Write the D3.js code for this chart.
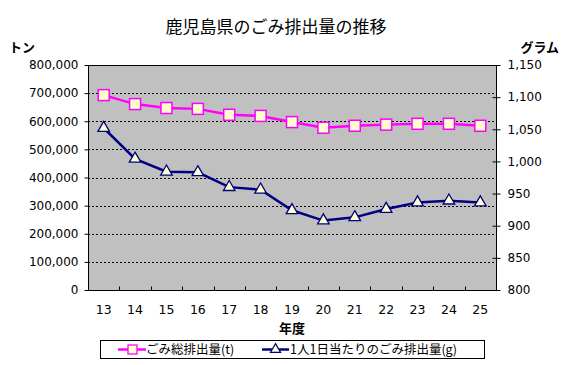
<!DOCTYPE html>
<html>
<head>
<meta charset="utf-8">
<script src="https://cdn.jsdelivr.net/npm/d3@7"></script>
<style>
body{margin:0;background:#fff;}
text{font-family:"Noto Sans CJK JP","DejaVu Sans",sans-serif;}
.num text, text.num{font-family:"DejaVu Sans",sans-serif;}
</style>
</head>
<body>
<script>
const years=["13","14","15","16","17","18","19","20","21","22","23","24","25"];
const totalWaste=[693000,661000,647000,644000,623000,619000,597000,577000,584000,588000,591000,591000,584000];
const perPerson=[1052,1004,984,983,960,956,924,908,913,926,936,939,936];
const leftTicks=[0,100000,200000,300000,400000,500000,600000,700000,800000];
const rightTicks=[800,850,900,950,1000,1050,1100,1150];

var w=568,h=365;
const m={left:88,right:496,top:65,bottom:290};
const svg=d3.select("body").append("svg").attr("width",w).attr("height",h);

const xScale=d3.scaleBand().domain(years).range([m.left,m.right]);
const yLeft=d3.scaleLinear().domain([0,800000]).range([m.bottom,m.top]);
const yRight=d3.scaleLinear().domain([800,1150]).range([m.bottom,m.top]);
const fmt=d3.format(",");

svg.append("rect").attr("x",m.left).attr("y",m.top)
  .attr("width",m.right-m.left).attr("height",m.bottom-m.top)
  .attr("fill","#c0c0c0");

// dashed gridlines
svg.append("g").selectAll("line").data(leftTicks.slice(1,-1)).enter().append("line")
  .attr("x1",m.left).attr("x2",m.right)
  .attr("y1",d=>Math.round(yLeft(d))+0.5).attr("y2",d=>Math.round(yLeft(d))+0.5)
  .attr("stroke","#000").attr("stroke-dasharray","2,2");

svg.append("rect").attr("x",m.left+0.5).attr("y",m.top+0.5)
  .attr("width",m.right-m.left).attr("height",m.bottom-m.top)
  .attr("fill","none").attr("stroke","#000");

// left axis
svg.append("g").attr("class","num").attr("transform","translate("+(m.left+0.5)+",0)")
  .call(d3.axisLeft(yLeft).tickValues(leftTicks).tickFormat(fmt).tickSize(4).tickPadding(6))
  .call(g=>g.select(".domain").remove())
  .call(g=>g.selectAll("text").attr("font-size",12).attr("fill","#000"));

// right axis
svg.append("g").attr("class","num").attr("transform","translate("+(m.right+0.5)+",0)")
  .call(d3.axisRight(yRight).tickValues(rightTicks).tickFormat(fmt).tickSize(4).tickPadding(7))
  .call(g=>g.select(".domain").remove())
  .call(g=>g.selectAll("line").attr("x1",-4))
  .call(g=>g.selectAll("text").attr("font-size",12).attr("fill","#000"));

// x axis
const xAxis=svg.append("g").attr("class","num").attr("transform","translate(0,"+(m.bottom+0.5)+")");
xAxis.selectAll("line").data(years.slice(1)).enter().append("line")
  .attr("x1",d=>Math.round(xScale(d))+0.5).attr("x2",d=>Math.round(xScale(d))+0.5)
  .attr("y1",0).attr("y2",-4).attr("stroke","#000");
xAxis.selectAll("text").data(years).enter().append("text")
  .attr("x",d=>xScale(d)+xScale.bandwidth()/2).attr("y",23)
  .attr("text-anchor","middle").attr("font-size",12.5).text(d=>d);

// titles
svg.append("text").attr("x",w/2-8).attr("y",33).attr("text-anchor","middle")
  .attr("font-size",17).text("鹿児島県のごみ排出量の推移");
svg.append("text").attr("x",9).attr("y",52).attr("font-size",13).attr("font-weight","bold").text("トン");
svg.append("text").attr("x",559).attr("y",52).attr("text-anchor","end").attr("font-size",13).attr("font-weight","bold").text("グラム");
svg.append("text").attr("x",(m.left+m.right)/2).attr("y",333).attr("text-anchor","middle")
  .attr("font-size",13).attr("font-weight","bold").text("年度");

const cx=d=>xScale(d)+xScale.bandwidth()/2;
const tri=d3.symbol().type(d3.symbolTriangle).size(58);

// pink series
svg.append("path").datum(totalWaste)
  .attr("d",d3.line().x((d,i)=>cx(years[i])).y(d=>yLeft(d)))
  .attr("fill","none").attr("stroke","#ff00ff").attr("stroke-width",2.5);
svg.append("g").selectAll("rect").data(totalWaste).enter().append("rect")
  .attr("x",(d,i)=>cx(years[i])-5.5).attr("y",d=>yLeft(d)-5.5)
  .attr("width",11).attr("height",11)
  .attr("fill","#ffffcc").attr("stroke","#ff00ff").attr("stroke-width",1.5);

// navy series
svg.append("path").datum(perPerson)
  .attr("d",d3.line().x((d,i)=>cx(years[i])).y(d=>yRight(d)))
  .attr("fill","none").attr("stroke","#000080").attr("stroke-width",2.5);
svg.append("g").selectAll("path").data(perPerson).enter().append("path")
  .attr("d",tri)
  .attr("transform",(d,i)=>"translate("+cx(years[i])+","+yRight(d)+")")
  .attr("fill","#ffffcc").attr("stroke","#000080").attr("stroke-width",1.3);

// legend
const lg=svg.append("g");
lg.append("rect").attr("x",100.5).attr("y",340.5).attr("width",384).attr("height",18)
  .attr("fill","#fff").attr("stroke","#000");
lg.append("line").attr("x1",118).attr("x2",146).attr("y1",349.5).attr("y2",349.5)
  .attr("stroke","#ff00ff").attr("stroke-width",2.5);
lg.append("rect").attr("x",128).attr("y",345).attr("width",9).attr("height",9)
  .attr("fill","#ffffcc").attr("stroke","#ff00ff").attr("stroke-width",1.3);
lg.append("text").attr("x",146).attr("y",354).attr("font-size",12.5).text("ごみ総排出量(t)");
lg.append("line").attr("x1",262).attr("x2",289).attr("y1",349.5).attr("y2",349.5)
  .attr("stroke","#000080").attr("stroke-width",2.5);
lg.append("path").attr("d",d3.symbol().type(d3.symbolTriangle).size(45))
  .attr("transform","translate(275.5,349.5)")
  .attr("fill","#ffffcc").attr("stroke","#000080").attr("stroke-width",1.2);
lg.append("text").attr("x",290).attr("y",354).attr("font-size",12.5).text("1人1日当たりのごみ排出量(g)");
</script>
</body>
</html>
